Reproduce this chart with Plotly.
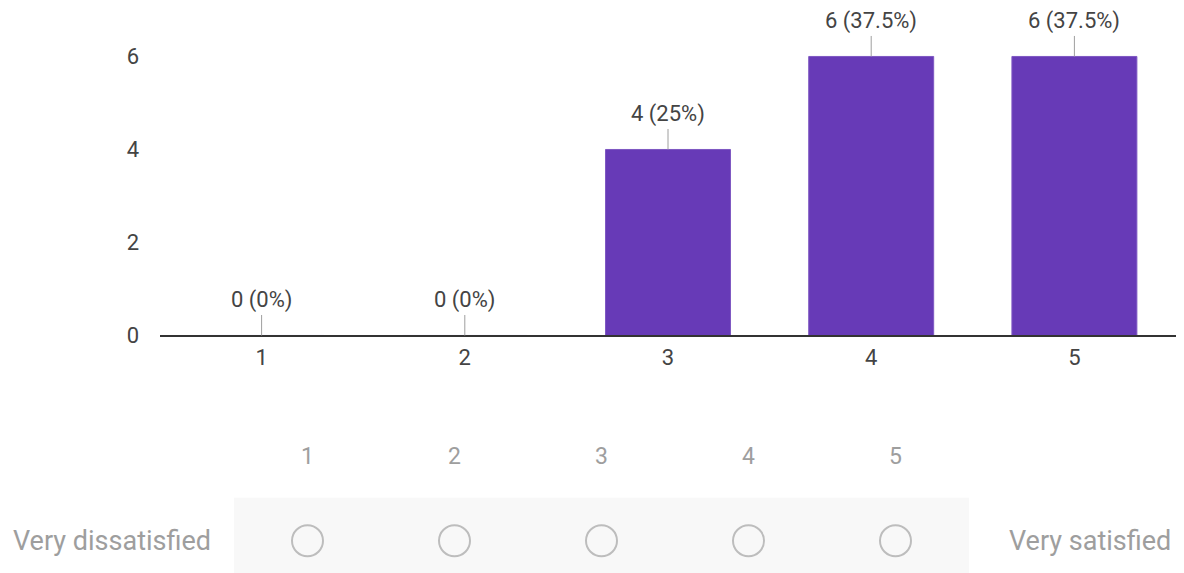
import plotly.graph_objects as go

categories = ["1", "2", "3", "4", "5"]
counts = [0, 0, 4, 6, 6]
scale_labels = ["1", "2", "3", "4", "5"]
low_label = "Very dissatisfied"
high_label = "Very satisfied"

total = sum(counts)
bar_text = [f"{c} ({100 * c / total:g}%)" for c in counts]

W, H = 1168, 580
FONT = "Roboto, Arial, sans-serif"

fig = go.Figure()
fig.add_trace(go.Bar(
    x=categories, y=counts, marker=dict(color="#673ab7", line=dict(color="#7e57c2", width=1)),
    width=0.615, xaxis="x", yaxis="y", hoverinfo="skip", showlegend=False,
))

# scale widget (circles)
fig.add_trace(go.Scatter(
    x=list(range(len(scale_labels))), y=[0.444] * len(scale_labels), mode="markers",
    marker=dict(symbol="circle-open", size=31, color="#bdbdbd", line=dict(width=2, color="#bdbdbd")),
    xaxis="x2", yaxis="y2", hoverinfo="skip", showlegend=False, cliponaxis=False,
))

annotations = []
for i, (c, t) in enumerate(zip(counts, bar_text)):
    annotations.append(dict(
        x=i, y=c, xref="x", yref="y", text=t, showarrow=True,
        arrowhead=0, arrowwidth=1, arrowcolor="#9e9e9e", ax=0, ay=-35,
        font=dict(family=FONT, size=22, color="#444444"),
    ))
for i, s in enumerate(scale_labels):
    annotations.append(dict(
        x=i, y=121 / H, xref="x2", yref="paper", text=s, showarrow=False,
        font=dict(family=FONT, size=23, color="#9e9e9e"), yanchor="middle",
    ))
annotations.append(dict(
    x=205 / W, y=35 / H, xref="paper", yref="paper", text=low_label, showarrow=False,
    xanchor="right", yanchor="middle", font=dict(family=FONT, size=27, color="#9e9e9e"),
))
annotations.append(dict(
    x=999 / W, y=35 / H, xref="paper", yref="paper", text=high_label, showarrow=False,
    xanchor="left", yanchor="middle", font=dict(family=FONT, size=27, color="#9e9e9e"),
))

fig.update_layout(
    width=W, height=H,
    margin=dict(l=0, r=0, t=0, b=0),
    paper_bgcolor="white", plot_bgcolor="white",
    xaxis=dict(domain=[152 / W, 1.0], anchor="y", type="category", range=[-0.5, 4.5],
               showline=True, linecolor="#333333", linewidth=2, showgrid=False,
               ticks="", tickfont=dict(family=FONT, size=22, color="#444444"),
               ticklabelstandoff=1, fixedrange=True),
    yaxis=dict(domain=[245 / H, 578 / H], anchor="x", range=[0, 7],
               tickvals=[0, 2, 4, 6], showgrid=False, zeroline=False, showline=False,
               tickfont=dict(family=FONT, size=22, color="#444444"),
               ticklabelstandoff=20, fixedrange=True),
    xaxis2=dict(domain=[226 / W, 961 / W], anchor="y2", range=[-0.5, 4.5],
                visible=False, fixedrange=True),
    yaxis2=dict(domain=[0, 79 / H], anchor="x2", range=[0, 1], visible=False, fixedrange=True),
    shapes=[dict(type="rect", xref="x2 domain", yref="y2 domain", x0=0, x1=1, y0=0, y1=1,
                 fillcolor="#f8f8f8", line=dict(width=0), layer="below")],
    annotations=annotations,
)

fig.write_html("out.html")
